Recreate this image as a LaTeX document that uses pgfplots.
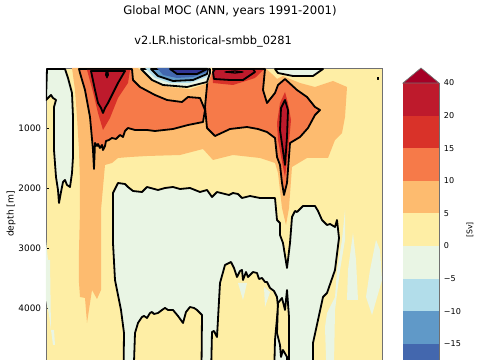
\documentclass[border=0pt]{standalone}
\usepackage{pgfplots}
\pgfplotsset{compat=1.18}
\usepackage{fontspec}
\setmainfont{DejaVu Sans}
\definecolor{cA}{HTML}{A50026}
\definecolor{cB}{HTML}{BE1A2C}
\definecolor{cC}{HTML}{D93229}
\definecolor{cD}{HTML}{F67A49}
\definecolor{cE}{HTML}{FDBB6F}
\definecolor{cF}{HTML}{FEEEA5}
\definecolor{cG}{HTML}{E9F5E4}
\definecolor{cH}{HTML}{B2DDEA}
\definecolor{cI}{HTML}{6099C8}
\definecolor{cJ}{HTML}{4367AE}
\definecolor{cK}{HTML}{313695}
\definecolor{spine}{HTML}{707070}
\tikzset{ct/.style={draw=black,line width=1.3pt,line join=round},nl/.style={draw=none}}
\begin{document}
\begin{tikzpicture}
\useasboundingbox (0pt,0pt) rectangle (345.6pt,259.2pt);
\clip (0pt,0pt) rectangle (345.6pt,259.2pt);
\node[font=\fontsize{8.4}{10}\selectfont] at (165.6pt,251.3pt) {Global MOC (ANN, years 1991-2001)};
\node[font=\fontsize{8.2}{10}\selectfont] at (153.4pt,229pt) {v2.LR.historical-smbb\_0281};
\node[rotate=90,font=\fontsize{6.6}{8}\selectfont] at (7.9pt,105.1pt) {depth [m]};
\node[rotate=90,font=\fontsize{5.6}{7}\selectfont] at (338.4pt,93.6pt) {[Sv]};
\begin{axis}[
  at={(33.12pt,210.24pt)},anchor=north west,scale only axis,
  width=241.92pt,height=237.6pt,
  xmin=46,xmax=382,ymin=0,ymax=5500,y dir=reverse,
  y filter/.expression={(y-68)*16.6667},
  xtick=\empty,ytick={1000,2000,3000,4000},
  tick style={black,line width=0.5pt},major tick length=2.5pt,
  tick pos=left,
  /pgf/number format/1000 sep={},/pgf/number format/assume math mode=true,
  ticklabel style={font=\fontsize{6.4}{8}\selectfont},
  axis line style={spine,line width=0.5pt},
  axis background/.style={fill=cF},
  no markers,
]
% left negative cell
\addplot[ct,fill=cG] coordinates {(47,69)(65,69)(68,78)(72,93)(73,117)(73,137)(73,157)(72,173)(70,187)(67,185)(65,180)(63,182)(61,192)(59,203)(58,190)(56,177)(54,150)(54,107)(56,100)(53,98)(51,95)(46,100)} --cycle;
\addplot[nl,fill=cG] coordinates {(46,240)(48,260)(50,260)(51,330)(54,330)(55,345)(53,345)(49,315)(46,300)} --cycle;
% 5-10
\addplot[nl,fill=cE] coordinates {(72,68)(75,90)(77,117)(79,150)(80,183)(80,210)(79,250)(79,283)(80,297)(85,298)(87,323)(92,290)(97,299)(101,290)(101,233)(101,210)(105,165)(112,163)(118,158)(130,157)(147,156)(180,155)(203,149)(213,160)(233,155)(260,158)(275,163)(278,173)(282,208)(286,225)(289,208)(292,167)(307,158)(328,158)(335,140)(342,133)(345,117)(347,87)(333,81)(315,87)(300,83)(290,79)(283,76)(277,79)(272,74)(265,68)} --cycle;
% 10-15 cells
\addplot[ct,fill=cD] coordinates {(79,69)(80,73)(85,90)(90,117)(93,150)(94,169)(95,143)(97,146)(98,144)(100,148)(102,145)(103,150)(105,146)(106,141)(109,140)(112,138)(116,139)(120,135)(123,137)(125,131)(128,128)(135,130)(147,130)(155,131)(173,129)(188,125)(203,122)(205,110)(200,98)(188,97)(182,102)(167,100)(155,95)(140,87)(133,80)(132,69)} --cycle;
\addplot[ct,fill=cD] coordinates {(208,69)(208,75)(205,107)(207,128)(215,136)(230,129)(247,127)(258,129)(267,132)(275,138)(277,157)(280,165)(282,183)(284,195)(287,183)(290,143)(300,137)(308,128)(315,115)(320,110)(315,107)(307,97)(297,90)(285,79)(278,85)(275,93)(267,103)(263,90)(265,69)} --cycle;
% 15-20
\addplot[nl,fill=cC] coordinates {(87,70)(93,92)(98,113)(103,130)(110,118)(118,98)(128,83)(130,70)} --cycle;
\addplot[nl,fill=cC] coordinates {(212,70)(213,83)(233,85)(255,78)(263,70)} --cycle;
\addplot[nl,fill=cC] coordinates {(285,92)(280,103)(277,123)(278,140)(283,167)(285,177)(288,153)(291,120)(288,103)} --cycle;
% 20-40
\addplot[ct,fill=cB] coordinates {(91,71)(95,90)(98,103)(101,108)(103,113)(105,108)(108,103)(113,93)(118,83)(125,71)} --cycle;
\addplot[ct,fill=cB] coordinates {(213,72)(214,79)(230,80)(243,80)(255,72)(253,69)(215,69)} --cycle;
\addplot[ct,fill=cB] coordinates {(285,100)(281,108)(280,130)(285,165)(287,137)(288,110)} --cycle;
\addplot[ct,fill=black,line width=0.6pt] coordinates {(106,72)(108,72)(108.5,75)(107,78)(105.5,75)} --cycle;
\addplot[ct,line width=0.9pt] coordinates {(225,72)(235,73)(243,72)(235,71)} --cycle;
% large negative cell
\addplot[ct,fill=cG] coordinates {(113,200)(113,243)(115,280)(121,310)(124,333)(123,420)(313,420)(313,343)(323,297)(327,293)(335,270)(339,238)(337,220)(335,227)(330,224)(327,225)(322,220)(318,211)(315,206)(303,206)(297,212)(295,211)(292,217)(290,243)(287,268)(283,243)(280,235)(280,223)(277,220)(275,198)(260,198)(250,196)(246,197)(242,198)(238,194)(233,193)(229,195)(225,194)(221,193)(217,192)(212,197)(207,190)(200,192)(195,190)(190,188)(180,189)(173,187)(165,188)(158,190)(147,187)(142,192)(133,191)(128,187)(125,184)(118,183)(113,193)} --cycle;
\addplot[nl,fill=cG] coordinates {(345,210)(342,240)(337,270)(335,297)(327,313)(325,327)(328,420)(333,420)(335,310)(340,270)(345,240)} --cycle;
\addplot[nl,fill=cG] coordinates {(353,233)(356,260)(358,300)(347,300)(348,270)} --cycle;
\addplot[nl,fill=cG] coordinates {(366,297)(372,315)(382,280)(380,250)(376,240)(370,270)} --cycle;
% positive islands
\addplot[ct,fill=cF] coordinates {(132,420)(135,333)(138,323)(142,317)(144,316)(147,318)(150,313)(152,312)(154,314)(158,313)(162,310)(165,308)(168,310)(173,310)(178,316)(183,323)(186,312)(190,307)(194,308)(197,310)(202,315)(201,420)} --cycle;
\addplot[ct,fill=cF] coordinates {(210,420)(212,332)(214,331)(217,337)(220,283)(225,265)(231,262)(234,268)(237,277)(240,271)(242,270)(243,280)(246,272)(248,277)(253,272)(257,273)(259,279)(262,278)(265,282)(267,282)(270,288)(274,291)(277,297)(278,307)(275,340)(273,420)} --cycle;
\addplot[ct,fill=cF] coordinates {(278,303)(282,298)(285,310)(287,290)(289,317)(289,420)(287,420)(287,357)(283,350)(281,357)(280,345)(277,333)} --cycle;
\addplot[nl,fill=cG] coordinates {(238,283)(243,300)(247,283)} --cycle;
\addplot[nl,fill=cG] coordinates {(264,287)(265,307)(270,292)} --cycle;
% top lens and dot
\addplot[ct,fill=cG] coordinates {(275,69)(278,73)(293,76)(313,76)(323,69)} --cycle;
\addplot[ct,fill=black,line width=0.5pt] coordinates {(377.5,77)(378.5,77)(378.5,79)(377.5,79)} --cycle;
% surface negative cell
\addplot[nl,fill=cF] coordinates {(138,68)(155,82)(170,87)(190,89)(208,83)(212,72)(212,68)} --cycle;
\addplot[ct,fill=cG] coordinates {(141,69)(152,80)(163,85)(187,87)(207,82)(210,73)(210,69)} --cycle;
\addplot[nl,fill=cH] coordinates {(145,68)(155,78)(170,83)(190,83)(207,77)(209,68)} --cycle;
\addplot[ct,fill=cI] coordinates {(151,69)(158,76)(173,81)(193,80)(207,74)(208,69)} --cycle;
\addplot[nl,fill=cJ] coordinates {(157,68)(163,75)(177,78)(193,77)(207,72)(207,68)} --cycle;
\addplot[ct,fill=cK] coordinates {(170,69)(177,74)(197,74)(207,69)} --cycle;
\end{axis}
\begin{axis}[
  at={(290.16pt,199.44pt)},anchor=north west,scale only axis,
  width=25.92pt,height=234.7pt,
  xmin=0,xmax=1,ymin=0,ymax=10,y dir=reverse,clip=false,
  xtick=\empty,ytick={0,1,2,3,4,5,6,7,8},
  yticklabels={40,20,15,10,5,0,−5,−10,−15},
  ytick pos=right,yticklabel pos=right,
  tick style={black,line width=0.5pt},major tick length=2.5pt,
  ticklabel style={font=\fontsize{5.8}{7}\selectfont},
  axis line style={spine,line width=0.5pt},
  no markers,
]
\addplot[nl,fill=cB] coordinates {(0,0)(1,0)(1,1)(0,1)} --cycle;
\addplot[nl,fill=cC] coordinates {(0,1)(1,1)(1,2)(0,2)} --cycle;
\addplot[nl,fill=cD] coordinates {(0,2)(1,2)(1,3)(0,3)} --cycle;
\addplot[nl,fill=cE] coordinates {(0,3)(1,3)(1,4)(0,4)} --cycle;
\addplot[nl,fill=cF] coordinates {(0,4)(1,4)(1,5)(0,5)} --cycle;
\addplot[nl,fill=cG] coordinates {(0,5)(1,5)(1,6)(0,6)} --cycle;
\addplot[nl,fill=cH] coordinates {(0,6)(1,6)(1,7)(0,7)} --cycle;
\addplot[nl,fill=cI] coordinates {(0,7)(1,7)(1,8)(0,8)} --cycle;
\addplot[nl,fill=cJ] coordinates {(0,8)(1,8)(1,9)(0,9)} --cycle;
\addplot[draw=spine,line width=0.5pt,fill=cA] coordinates {(0,0)(0.5,-0.46)(1,0)} --cycle;
\end{axis}
\end{tikzpicture}
\end{document}
